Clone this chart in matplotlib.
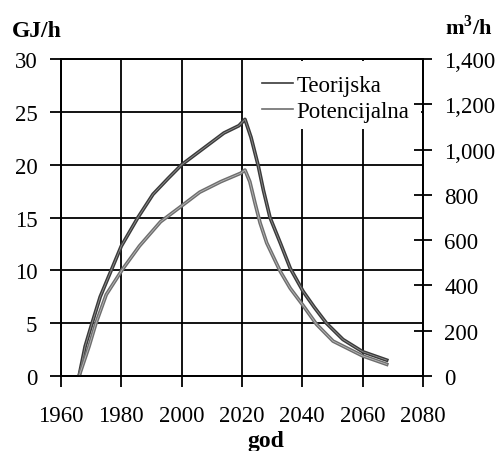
import matplotlib.pyplot as plt
import matplotlib.patheffects as pe
from matplotlib.patches import Rectangle

plt.rcParams['font.family'] = ['Liberation Serif', 'DejaVu Serif']
plt.rcParams['mathtext.fontset'] = 'custom'
plt.rcParams['mathtext.rm'] = 'Liberation Serif'
plt.rcParams['mathtext.bf'] = 'Liberation Serif:bold'

# podaci ocitani sa grafika
god_t = [1966, 1968, 1970.3, 1973, 1976.5, 1980, 1985.5, 1990.5, 1995.5, 2000,
         2007, 2014, 2019, 2021, 2023, 2025.4, 2027.1, 2029.3, 2032.7, 2036,
         2040.3, 2044, 2048, 2053.5, 2060, 2068]
teorijska = [0, 2.8, 5.0, 7.5, 9.9, 12.3, 15.0, 17.2, 18.7, 20.0,
             21.5, 23.0, 23.7, 24.3, 22.6, 19.9, 17.6, 15.0, 12.6, 10.2,
             8.0, 6.5, 5.0, 3.45, 2.3, 1.5]
god_p = [1966, 1969.3, 1971.6, 1975, 1980.4, 1986, 1993, 2000, 2006, 2013,
         2019.6, 2021, 2022.6, 2024.3, 2026, 2028.2, 2032.7, 2036, 2040.2,
         2044.7, 2050.2, 2060, 2068]
potencijalna = [0, 2.8, 5.0, 7.7, 10.1, 12.3, 14.6, 16.1, 17.4, 18.4,
                19.2, 19.5, 18.4, 16.4, 14.5, 12.6, 9.9, 8.3, 6.7,
                4.9, 3.3, 1.9, 1.1]

fig = plt.figure(figsize=(5.02, 4.52), dpi=100)
ax = fig.add_axes([0.1215, 0.166, 0.721, 0.701])

# linije izgledaju "dvostruko" - tamna ivica i svetlija sredina
ax.plot(god_t, teorijska, color='#909090', lw=0.6, label='Teorijska', zorder=3,
        solid_joinstyle='round',
        path_effects=[pe.Stroke(linewidth=2.6, foreground='#3a3a3a'), pe.Normal()])
ax.plot(god_p, potencijalna, color='#b8b8b8', lw=0.6, label='Potencijalna', zorder=3,
        solid_joinstyle='round',
        path_effects=[pe.Stroke(linewidth=2.6, foreground='#6e6e6e'), pe.Normal()])

ax.set_xlim(1960, 2080)
ax.set_ylim(0, 30)
ax.set_xticks(range(1960, 2081, 20))
ax.set_yticks(range(0, 31, 5))
ax.grid(True, color='black', lw=1.3)
ax.set_axisbelow(True)
for s in ax.spines.values():
    s.set_color('black')
    s.set_linewidth(1.3)
ax.tick_params(direction='out', length=8, width=1.3, labelsize=16.5, colors='black')
ax.tick_params(axis='y', pad=9)
ax.tick_params(axis='x', pad=13)

# bela pozadina legende preko mreze (ispod krivih)
ax.add_patch(Rectangle((0.504, 0.78), 0.49, 0.215, transform=ax.transAxes,
                       facecolor='white', edgecolor='none', zorder=1))

ax2 = ax.twinx()
ax2.set_ylim(0, 1400)
ax2.set_yticks(range(0, 1401, 200))
ax2.set_yticklabels([f'{v:,}' for v in range(0, 1401, 200)])
ax2.tick_params(direction='inout', length=13, width=1.3, labelsize=16.5, pad=9)
for s in ax2.spines.values():
    s.set_linewidth(1.3)

leg = ax.legend(loc='upper left', bbox_to_anchor=(0.556, 0.95), fontsize=16.5,
                frameon=False, handlelength=1.35, handletextpad=0.15,
                borderpad=0, labelspacing=0.2, borderaxespad=0)
leg.set_zorder(5)
for h, c in zip(leg.get_lines(), ['#3a3a3a', '#6e6e6e']):
    h.set_path_effects([])
    h.set_color(c)
    h.set_linewidth(1.2)

fig.text(0.024, 0.918, 'GJ/h', fontsize=17, fontweight='bold')
fig.text(0.886, 0.922, 'm$^\\mathbf{3}$/h', fontsize=16, fontweight='bold')
fig.text(0.53, 0.012, 'god', fontsize=17, fontweight='bold', ha='center')

fig.savefig('out.png', dpi=100)
